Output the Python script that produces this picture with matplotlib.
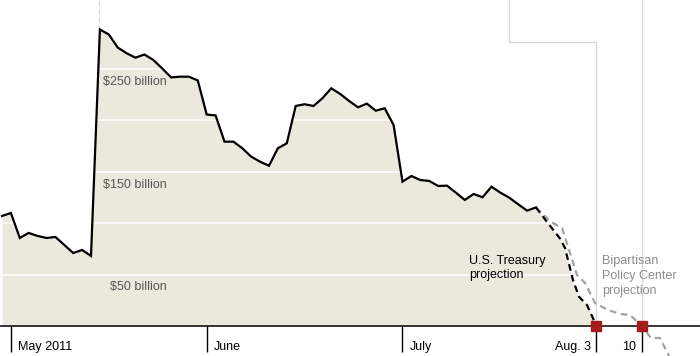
import matplotlib
matplotlib.use('Agg')
import matplotlib.pyplot as plt
import numpy as np

plt.rcParams['font.family'] = ['Liberation Sans', 'DejaVu Sans']

# cash balance, $ billions, one value per trading day (index 0 = end of April)
balance = [107.0, 109.9, 85.6, 90.5, 87.6, 85.6, 86.6, 78.8, 71.0, 73.9,
           68.1, 288.4, 283.6, 270.9, 265.3, 261.0, 264.1, 258.8, 250.5, 241.8,
           242.5, 242.5, 238.8, 205.7, 204.8, 179.3, 179.3, 172.9, 164.7, 159.8,
           155.9, 172.9, 177.7, 214.0, 215.7, 214.0, 221.5, 231.2, 225.7, 218.9,
           212.7, 216.3, 209.4, 211.8, 195.5, 140.4, 145.9, 142.0, 141.1, 136.2,
           136.5, 129.7, 122.6, 128.4, 125.2, 135.5, 129.7, 124.8, 118.4, 112.2,
           115.3]

treasury_x = [60.0, 61.24, 62.70, 63.26, 64.16, 64.83, 65.73, 66.80]
treasury_y = [115.3, 101.2, 85.1, 75.9, 44.7, 28.5, 20.4, 0.0]

bpc_x = [60.0, 61.69, 62.92, 63.60, 64.61, 65.51, 66.63, 68.09, 69.44,
         70.56, 71.91, 72.92, 73.93, 75.06]
bpc_y = [115.3, 101.2, 95.3, 76.9, 49.6, 41.8, 22.4, 15.6, 11.7,
         10.7, 0.0, -11.7, -11.7, -31.1]

tick_pos = [1.0, 23.0, 45.0, 66.8, 71.9]
tick_labels = ['May 2011', 'June', 'July', 'Aug. 3', '10']
gridlines = [50, 100, 150, 200, 250]
grid_labels = {250: '$250 billion', 150: '$150 billion', 50: '$50 billion'}

xmin, xmax = -0.225, 78.43
ymin, ymax = -29.2, 317.1

fig = plt.figure(figsize=(7.0, 3.56), dpi=100)
ax = fig.add_axes([0, 0, 1, 1])
ax.set_xlim(xmin, xmax)
ax.set_ylim(ymin, ymax)
ax.axis('off')

days = np.arange(len(balance))
fill_x = list(days) + treasury_x[1:]
fill_y = list(balance) + treasury_y[1:]
ax.fill_between(fill_x, fill_y, 0, color='#ebe8de', lw=0, zorder=1)

for g in gridlines:
    ax.axhline(g, color='white', lw=1.1, zorder=2)
for g, lab in grid_labels.items():
    ax.text(18.54, g - 12.5, lab, ha='right', va='center', fontsize=9,
            color='#555555', zorder=3)

# leader lines from the (removed) top annotations
ax.plot([57.0, 57.0, 66.8, 66.8], [ymax, 276.3, 276.3, 0], color='#d9d9d9',
        lw=1, zorder=2)
ax.plot([71.9, 71.9], [ymax, 0], color='#d9d9d9', lw=1, zorder=2)
ax.plot([10.85, 10.85], [ymax, 283], color='#d9d9d9', lw=1, ls=(0, (4, 2)),
        zorder=2)

ax.plot(bpc_x, bpc_y, color='#a3a3a3', lw=1.6, ls=(0, (3, 2)), zorder=4,
        clip_on=False)
ax.plot(treasury_x, treasury_y, color='black', lw=1.6, ls=(0, (3, 2)), zorder=5)
ax.plot(days, balance, color='black', lw=1.6, zorder=6, solid_joinstyle='miter')

ax.axhline(0, color='black', lw=1.1, zorder=7)
ax.vlines(tick_pos, -25.3, 0, color='black', lw=1, zorder=7)
for pos, lab in zip(tick_pos, tick_labels):
    if pos > 60:
        ax.annotate(lab, (pos, -20.9), xytext=(-4, 0), textcoords='offset points',
                    ha='right', va='center', fontsize=9, color='black')
    else:
        ax.annotate(lab, (pos, -20.9), xytext=(5, 0), textcoords='offset points',
                    ha='left', va='center', fontsize=9, color='black')

ax.plot([66.8, 71.9], [0, 0], ls='none', marker='s', ms=6.5,
        color='#a51c1c', zorder=8)

ax.text(52.5, 56.4, 'U.S. Treasury\nprojection', ha='left', va='center',
        fontsize=9, color='black', linespacing=1.3, zorder=8)
ax.text(67.4, 48.6, 'Bipartisan\nPolicy Center\nprojection', ha='left',
        va='center', fontsize=9, color='#8c8c8c', linespacing=1.3, zorder=8)

fig.savefig('out.png', dpi=100)
